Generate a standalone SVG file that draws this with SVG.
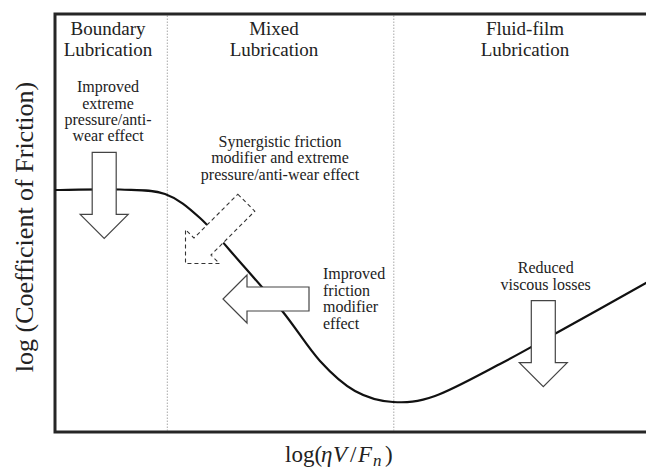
<svg xmlns="http://www.w3.org/2000/svg" xmlns:xlink="http://www.w3.org/1999/xlink" width="646" height="468" viewBox="0 0 646 468">
  <style>
    text { font-family: "Liberation Serif", "Times New Roman", serif; fill: #222; }
    .title { font-size: 19px; text-anchor: middle; }
    .note { font-size: 16px; text-anchor: middle; }
    .noteL { font-size: 16px; text-anchor: start; }
    .axis { font-size: 26px; text-anchor: middle; }
    .xaxis { font-size: 23px; }
    .frame { fill: none; stroke: #262626; stroke-width: 3; }
    .divider { stroke: #a8a8a8; stroke-width: 1; stroke-dasharray: 1.5 1.5; }
    .curve { fill: none; stroke: #111; stroke-width: 2.2; stroke-linecap: round; }
    .arrow { fill: #fff; stroke: #444; stroke-width: 1.2; stroke-linejoin: miter; }
    .arrow-dashed { fill: #fff; stroke: #333; stroke-width: 1.1; stroke-dasharray: 4 3; }
  </style>
  <defs>
    <path id="arrowShape" d="M -12,-86 H 12 V -24 H 24 L 0,0 L -24,-24 H -12 Z"/>
  </defs>

  <rect x="0" y="0" width="646" height="468" fill="#fff"/>

  <g id="frame">
    <line class="divider" x1="167.3" y1="15.5" x2="167.3" y2="430.5"/>
    <line class="divider" x1="393.8" y1="15.5" x2="393.8" y2="430.5"/>
    <path class="frame" d="M 646,14 H 55 V 432 H 646"/>
  </g>

  <g id="connectors">
    <path id="stribeck-curve" class="curve" d="M 56,190 C 66.7,189.9 101.8,188.8 120,189.5 C 138.2,190.2 151.7,189.25 165,194 C 178.3,198.75 187.5,206.7 200,218 C 212.5,229.3 226.2,246.3 240,262 C 253.8,277.7 269.7,295.5 283,312 C 296.3,328.5 308,347.8 320,361 C 332,374.2 342.8,384.2 355,391 C 367.2,397.8 379.7,401.2 393,402 C 406.3,402.8 417.2,402.3 435,396 C 452.8,389.7 479.2,374.8 500,364 C 520.8,353.2 535.7,344.5 560,331 C 584.3,317.5 631.7,291 646,283"/>
  </g>

  <g id="region-boundary">
    <text class="title" x="108" y="35">Boundary</text>
    <text class="title" x="108" y="56">Lubrication</text>
  </g>
  <g id="region-mixed">
    <text class="title" x="274" y="35">Mixed</text>
    <text class="title" x="274" y="56">Lubrication</text>
  </g>
  <g id="region-fluid">
    <text class="title" x="525" y="35">Fluid-film</text>
    <text class="title" x="525" y="56">Lubrication</text>
  </g>

  <g id="effect-ep-aw">
    <text class="note" x="108" y="92">Improved</text>
    <text class="note" x="108" y="108.5">extreme</text>
    <text class="note" x="108" y="125">pressure/anti-</text>
    <text class="note" x="108" y="141">wear effect</text>
    <use xlink:href="#arrowShape" class="arrow" transform="translate(104.2,238.3)"/>
  </g>

  <g id="effect-synergistic">
    <text class="note" x="280" y="146.5">Synergistic friction</text>
    <text class="note" x="280" y="163">modifier and extreme</text>
    <text class="note" x="280" y="179.5">pressure/anti-wear effect</text>
    <use xlink:href="#arrowShape" class="arrow-dashed" transform="translate(185.5,263.5) rotate(45)"/>
  </g>

  <g id="effect-fm">
    <use xlink:href="#arrowShape" class="arrow" transform="translate(223,299) rotate(90)"/>
    <text class="noteL" x="323" y="279">Improved</text>
    <text class="noteL" x="323" y="295.7">friction</text>
    <text class="noteL" x="323" y="312.3">modifier</text>
    <text class="noteL" x="323" y="328.5">effect</text>
  </g>

  <g id="effect-viscous">
    <text class="note" x="545.7" y="273.3">Reduced</text>
    <text class="note" x="545.7" y="290">viscous losses</text>
    <use xlink:href="#arrowShape" class="arrow" transform="translate(543.3,386.7)"/>
  </g>

  <g id="y-axis-label">
    <text class="axis" transform="translate(33,227) rotate(-90)">log (Coefficient of Friction)</text>
  </g>

  <g id="x-axis-label">
    <text class="xaxis" y="461.5"><tspan x="285">log(</tspan><tspan x="321" font-style="italic">η</tspan><tspan x="333" font-style="italic">V</tspan><tspan x="350">/</tspan><tspan x="358" font-style="italic">F</tspan><tspan x="373" y="465.5" font-style="italic" font-size="17">n</tspan><tspan x="385" y="461.5">)</tspan></text>
  </g>
</svg>
